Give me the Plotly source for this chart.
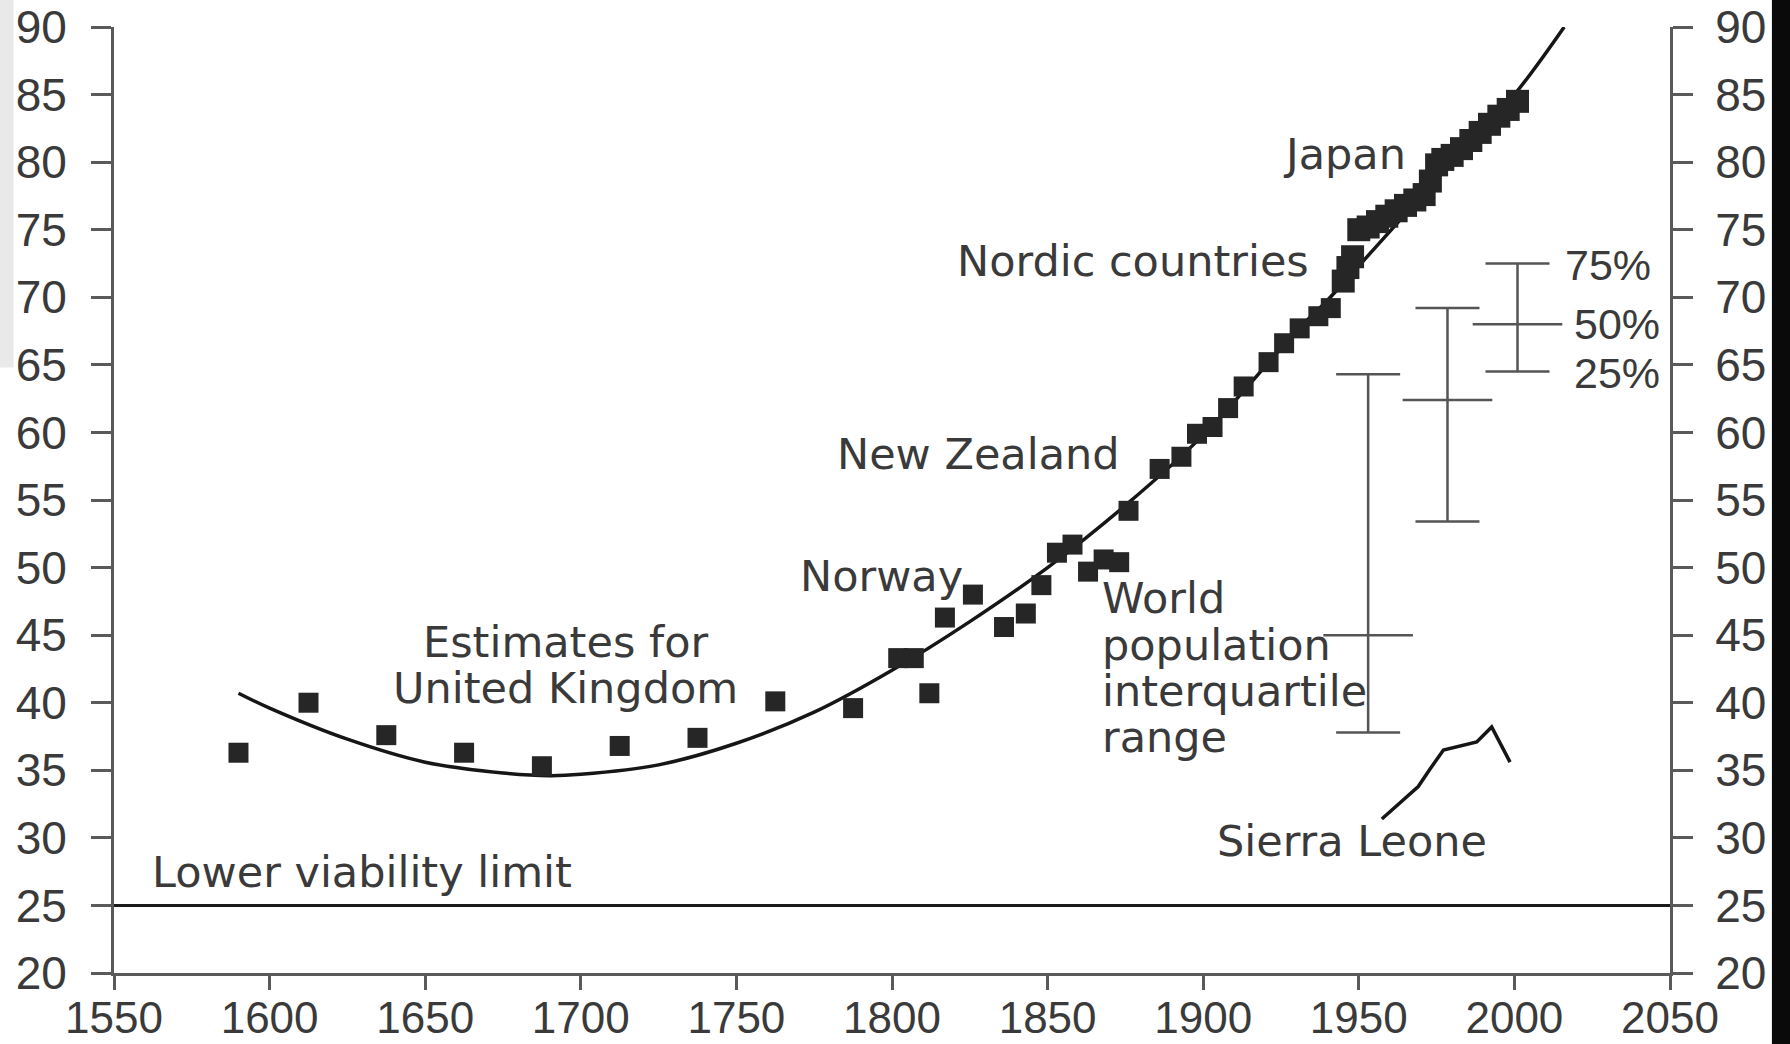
import plotly.graph_objects as go

# ---------------- data ----------------
uk_years = [1590, 1612.5, 1637.5, 1662.5, 1687.5, 1712.5, 1737.5, 1762.5, 1787.5]
uk_e0 = [36.3, 40.0, 37.6, 36.3, 35.3, 36.8, 37.4, 40.1, 39.6]

record_years = [1802, 1807, 1812, 1817, 1826, 1836, 1843, 1848, 1853, 1858, 1863, 1868,
                1873, 1876, 1886, 1893, 1898, 1903, 1908, 1913, 1921, 1926, 1931, 1937,
                1941]
record_e0 = [43.3, 43.3, 40.7, 46.3, 48.0, 45.6, 46.6, 48.7, 51.1, 51.7, 49.7, 50.6,
             50.4, 54.2, 57.3, 58.2, 59.9, 60.4, 61.8, 63.4, 65.2, 66.6, 67.7, 68.6,
             69.2]

nordic_years = [1945, 1946.5, 1948]
nordic_e0 = [71.2, 72.2, 73.0]

japan_years = [1950, 1953, 1956, 1959, 1962, 1965, 1968, 1971, 1973, 1975, 1977, 1980,
               1983, 1986, 1989, 1992, 1995, 1998, 2001]
japan_e0 = [75.0, 75.2, 75.6, 76.0, 76.4, 76.8, 77.2, 77.6, 78.6, 79.8, 80.2, 80.5,
            81.0, 81.6, 82.2, 82.8, 83.4, 83.9, 84.5]

trend_years = [1590, 1600, 1625, 1650, 1675, 1690, 1700, 1725, 1750, 1775, 1800, 1825,
               1850, 1875, 1900, 1930, 1940, 1955, 1980, 2000, 2016]
trend_e0 = [40.7, 39.6, 37.3, 35.6, 34.8, 34.6, 34.7, 35.4, 37.0, 39.3, 42.4, 46.0,
            50.0, 54.6, 59.8, 67.5, 69.8, 73.6, 80.0, 85.0, 90.0]

sierra_years = [1957.4, 1969.1, 1972.9, 1977.2, 1987.9, 1992.7, 1998.6]
sierra_e0 = [31.4, 33.8, 35.1, 36.5, 37.1, 38.2, 35.6]

iqr_years = [1953, 1978.5, 2001]
iqr_p25 = [37.8, 53.4, 64.5]
iqr_p50 = [45.0, 62.4, 68.0]
iqr_p75 = [64.3, 69.2, 72.5]

viability_years = [1550, 2050]
viability_e0 = [25, 25]

x_ticks = [1550, 1600, 1650, 1700, 1750, 1800, 1850, 1900, 1950, 2000, 2050]
y_ticks = [20, 25, 30, 35, 40, 45, 50, 55, 60, 65, 70, 75, 80, 85, 90]

# ---------------- styling ----------------
TXT = "#3a3a3a"
ANN_FONT = dict(family="DejaVu Sans, Verdana, sans-serif", size=43, color=TXT)
TICK_FONT = dict(family="Liberation Sans, Arial, Helvetica, sans-serif", size=46, color=TXT)
XTICK_FONT = dict(family="Liberation Sans, Arial, Helvetica, sans-serif", size=44, color=TXT)
SQ = dict(symbol="square", size=20, color="#262626", line=dict(width=0))
SQJ = dict(symbol="square", size=23, color="#262626", line=dict(width=0))

fig = go.Figure()

# lower viability limit
fig.add_trace(go.Scatter(x=viability_years, y=viability_e0, mode="lines",
                         line=dict(color="#1a1a1a", width=3), hoverinfo="skip",
                         showlegend=False))

# trend curve
fig.add_trace(go.Scatter(x=trend_years, y=trend_e0, mode="lines",
                         line=dict(color="#161616", width=3.5, shape="spline", smoothing=1.0),
                         showlegend=False))

# record squares
for xs, ys, mk in [(uk_years, uk_e0, SQ), (record_years, record_e0, SQ),
                   (nordic_years, nordic_e0, SQJ), (japan_years, japan_e0, SQJ)]:
    fig.add_trace(go.Scatter(x=xs, y=ys, mode="markers", marker=mk, showlegend=False))

# Sierra Leone
fig.add_trace(go.Scatter(x=sierra_years, y=sierra_e0, mode="lines",
                         line=dict(color="#161616", width=3.5), showlegend=False))

# interquartile ranges
fig.add_trace(go.Scatter(
    x=iqr_years, y=iqr_p50, mode="markers",
    marker=dict(symbol="line-ew", size=64, line=dict(width=2.5, color="#555555")),
    error_y=dict(type="data", symmetric=False,
                 array=[a - b for a, b in zip(iqr_p75, iqr_p50)],
                 arrayminus=[b - c for b, c in zip(iqr_p50, iqr_p25)],
                 width=32, thickness=2.5, color="#555555"),
    showlegend=False))

# invisible trace to carry the right-hand axis
fig.add_trace(go.Scatter(x=viability_years, y=viability_e0, yaxis="y2", mode="lines",
                         line=dict(width=0), hoverinfo="skip", showlegend=False))

# ---------------- annotations ----------------
def ann(text, x, y, xanchor="left", font=ANN_FONT):
    fig.add_annotation(x=x, y=y, xref="x", yref="y", text=text, showarrow=False,
                       xanchor=xanchor, yanchor="middle", font=font)

ann("Japan", 1965.8, 80.6, "right")
ann("Nordic countries", 1934.6, 72.7, "right")
ann("New Zealand", 1873.9, 58.4, "right")
ann("Norway", 1823.5, 49.4, "right")
ann("Estimates for", 1695.2, 44.5, "center")
ann("United Kingdom", 1695.2, 41.1, "center")
ann("World", 1866.8, 47.75)
ann("population", 1866.8, 44.3)
ann("interquartile", 1866.8, 40.9)
ann("range", 1866.8, 37.5)
ann("Sierra Leone", 1903.8, 29.75)
ann("Lower viability limit", 1561.6, 27.5)
PCT_FONT = dict(family="Liberation Sans, Arial, sans-serif", size=43, color=TXT)
ann("75%", 2015.6, 72.4, font=PCT_FONT)
ann("50%", 2018.5, 68.05, font=PCT_FONT)
ann("25%", 2018.5, 64.4, font=PCT_FONT)

# scan edge artefacts
fig.add_shape(type="rect", xref="paper", yref="paper", x0=1.0655, x1=1.10, y0=-0.2, y1=1.2,
              fillcolor="#0a0a0a", line=dict(width=0), layer="above")
fig.add_shape(type="rect", xref="paper", yref="paper", x0=-0.08, x1=-0.0645, y0=0.64, y1=1.1,
              fillcolor="#e9e9e9", line=dict(width=0), layer="below")

axis_common = dict(showgrid=False, zeroline=False, showline=True, linewidth=3,
                   linecolor="#5a5a5a", ticks="outside", tickwidth=3, tickcolor="#5a5a5a",
                   automargin=False)

fig.update_layout(
    width=1790, height=1044,
    margin=dict(l=114, r=120, t=27, b=71),
    paper_bgcolor="white", plot_bgcolor="white",
    xaxis=dict(range=[1550, 2050], tickvals=x_ticks, ticklen=14, ticklabelstandoff=-10,
               tickfont=XTICK_FONT, **axis_common),
    yaxis=dict(range=[20, 90], tickvals=y_ticks, ticklen=20, ticklabelstandoff=15,
               tickfont=TICK_FONT, **axis_common),
    yaxis2=dict(range=[20, 90], tickvals=y_ticks, ticklen=20, overlaying="y", side="right",
                anchor="x", ticklabelstandoff=13, tickfont=TICK_FONT, **axis_common),
)

fig.write_html("out.html", config={"displayModeBar": False},
               post_script="document.body.style.margin='0';document.body.style.overflow='hidden';")
